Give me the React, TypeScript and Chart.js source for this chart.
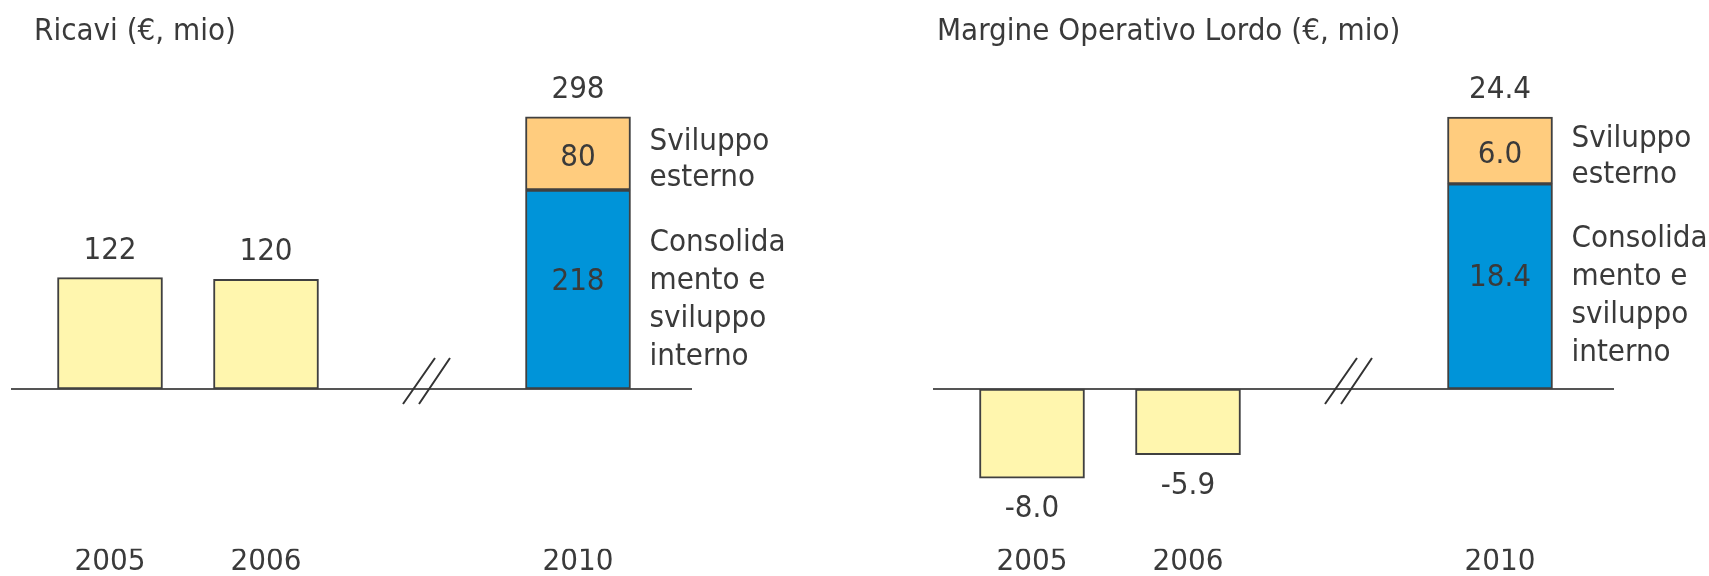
import { useEffect, useRef } from "react";
import { Chart, registerables } from "chart.js";
Chart.register(...registerables);

const FONT = "'DejaVu Sans Condensed', 'DejaVu Sans', sans-serif";
const FS = 31;
const TEXT = "#3a3a3a";

const categories = ["2005", "2006", "", "2010"];
const ricaviStorico = [122, 120, null, null];
const ricaviInterno = [null, null, null, 218];
const ricaviEsterno = [null, null, null, 80];
const molStorico = [-8.0, -5.9, null, null];
const molInterno = [null, null, null, 18.4];
const molEsterno = [null, null, null, 6.0];
const breakIndex = 2;
const labelEsterno = ["Sviluppo", "esterno"];
const labelInterno = ["Consolida", "mento e", "sviluppo", "interno"];
const titoloRicavi = "Ricavi (€, mio)";
const titoloMol = "Margine Operativo Lordo (€, mio)";

type PanelProps = {
  left: number;
  width: number;
  padLeft: number;
  padRight: number;
  yMin: number;
  yMax: number;
  storico: (number | null)[];
  interno: (number | null)[];
  esterno: (number | null)[];
  title: string;
  titleX: number;
  decimals: number;
};

function makePlugin(p: PanelProps) {
  return {
    id: "annot",
    beforeDatasetsDraw(chart: any) {
      const { ctx, chartArea, scales } = chart;
      const y0 = scales.y.getPixelForValue(0);
      ctx.save();
      ctx.strokeStyle = "#555555";
      ctx.lineWidth = 2;
      ctx.beginPath();
      ctx.moveTo(chartArea.left - 21, y0);
      ctx.lineTo(chartArea.right + 36, y0);
      ctx.stroke();
      ctx.restore();
    },
    afterDatasetsDraw(chart: any) {
      const { ctx, scales } = chart;
      const y0 = scales.y.getPixelForValue(0);
      const fmt = (v: number) => v.toFixed(p.decimals);
      ctx.save();
      // break marks
      const c = scales.x.getPixelForValue(breakIndex) + 5;
      ctx.strokeStyle = "#333333";
      ctx.lineWidth = 2;
      ctx.beginPath();
      ctx.moveTo(c - 24, y0 + 15);
      ctx.lineTo(c + 8, y0 - 31);
      ctx.moveTo(c - 8, y0 + 15);
      ctx.lineTo(c + 23, y0 - 31);
      ctx.stroke();

      // title
      ctx.fillStyle = TEXT;
      ctx.font = `${FS}px ${FONT}`;
      ctx.textAlign = "left";
      ctx.textBaseline = "middle";
      ctx.fillText(p.title, p.titleX, 32);

      ctx.textAlign = "center";
      const m0 = chart.getDatasetMeta(0);
      p.storico.forEach((v, i) => {
        if (v == null) return;
        const el = m0.data[i];
        const y = v >= 0 ? el.y - 27 : el.y + 31;
        ctx.fillText(fmt(v), el.x, y);
      });
      const m1 = chart.getDatasetMeta(1);
      const m2 = chart.getDatasetMeta(2);
      p.interno.forEach((v, i) => {
        if (v == null) return;
        const e = p.esterno[i] ?? 0;
        const eI = m1.data[i];
        const eE = m2.data[i];
        const midI = (eI.y + eI.base) / 2;
        const midE = (eE.y + eE.base) / 2;
        ctx.textAlign = "center";
        ctx.fillText(fmt(v), eI.x, midI - 8);
        ctx.fillText(fmt(e), eE.x, midE + 4);
        ctx.fillText(fmt(v + e), eE.x, eE.y - 27);
        ctx.textAlign = "left";
        const sx = eI.x + eI.width / 2 + 19;
        labelEsterno.forEach((t, k) => {
          ctx.fillText(t, sx, midE + 6 + (k - (labelEsterno.length - 1) / 2) * 36);
        });
        labelInterno.forEach((t, k) => {
          ctx.fillText(t, sx, midI + 10 + (k - (labelInterno.length - 1) / 2) * 38);
        });
      });
      ctx.restore();
    },
  };
}

function Panel(p: PanelProps) {
  const ref = useRef<HTMLCanvasElement | null>(null);
  useEffect(() => {
    if (!ref.current) return;
    const border = "#404040";
    const chart = new Chart(ref.current, {
      type: "bar",
      data: {
        labels: categories,
        datasets: [
          {
            label: "Storico",
            data: p.storico,
            backgroundColor: "#FFF6AE",
            borderColor: border,
            borderWidth: 2,
            borderSkipped: false,
            barThickness: 105,
          },
          {
            label: "Consolidamento e sviluppo interno",
            data: p.interno,
            backgroundColor: "#0094D9",
            borderColor: border,
            borderWidth: 2,
            borderSkipped: false,
            barThickness: 105,
          },
          {
            label: "Sviluppo esterno",
            data: p.esterno,
            backgroundColor: "#FFCC7E",
            borderColor: border,
            borderWidth: 2,
            borderSkipped: false,
            barThickness: 105,
          },
        ],
      },
      options: {
        responsive: false,
        animation: false,
        layout: { padding: { left: p.padLeft, right: p.padRight, top: 40, bottom: 0 } },
        plugins: { legend: { display: false }, tooltip: { enabled: false }, title: { display: false } },
        scales: {
          x: {
            stacked: true,
            grid: { display: false, drawTicks: false },
            border: { display: false },
            ticks: { color: TEXT, font: { family: FONT, size: FS, lineHeight: 0.88 }, padding: 0, autoSkip: false, maxRotation: 0 },
          },
          y: {
            stacked: true,
            display: false,
            min: p.yMin,
            max: p.yMax,
          },
        },
      },
      plugins: [makePlugin(p)],
    });
    return () => chart.destroy();
  }, []);
  return (
    <canvas
      ref={ref}
      width={p.width}
      height={576}
      style={{ position: "absolute", left: p.left, top: 0, width: p.width, height: 576 }}
    />
  );
}

export default function App() {
  return (
    <div style={{ position: "absolute", left: 0, top: 0, width: 1709, height: 576, overflow: "hidden", background: "#ffffff" }}>
      <Panel
        left={0}
        width={854}
        padLeft={32}
        padRight={198}
        yMin={-175}
        yMax={382.3}
        storico={ricaviStorico}
        interno={ricaviInterno}
        esterno={ricaviEsterno}
        title={titoloRicavi}
        titleX={34}
        decimals={0}
      />
      <Panel
        left={854}
        width={855}
        padLeft={100}
        padRight={131}
        yMin={-14.33}
        yMax={31.31}
        storico={molStorico}
        interno={molInterno}
        esterno={molEsterno}
        title={titoloMol}
        titleX={83}
        decimals={1}
      />
    </div>
  );
}
